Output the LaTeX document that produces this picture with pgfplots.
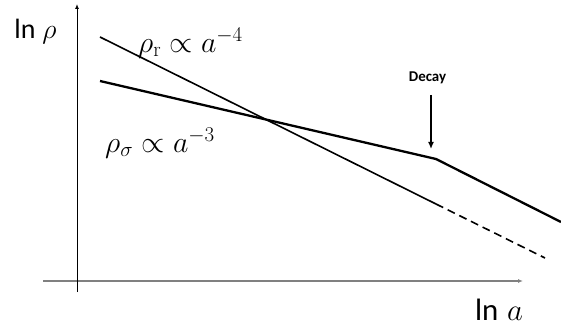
\RequirePackage{fix-cm}
\documentclass[border=0pt]{standalone}
\usepackage{pgfplots}
\pgfplotsset{compat=1.18}
\usepackage[no-math]{fontspec}
\setmainfont{Carlito}
\usetikzlibrary{arrows.meta}

\begin{document}
\begin{tikzpicture}
\begin{axis}[
  x=1bp, y=1bp,
  anchor=origin, at={(0,0)},
  xmin=-34, xmax=446,
  ymin=-11, ymax=277,
  axis lines=middle,
  xtick=\empty, ytick=\empty,
  clip=false,
  x axis line style={draw=gray, line width=1.5bp, -{Latex[length=5bp,width=4bp]}},
  y axis line style={draw=black, line width=0.9bp, -{Latex[length=5bp,width=4bp]}},
  xlabel={\fontsize{31}{34}\selectfont ln\hspace{0.28em}$a$},
  ylabel={\fontsize{28}{32}\selectfont ln\hspace{0.25em}$\rho$},
  xlabel style={at={(axis cs:422,-39)}, anchor=base, inner sep=0pt},
  ylabel style={at={(axis cs:-41.5,243)}, anchor=base, rotate=0, inner sep=0pt},
]
% radiation: rho_r ~ a^-4
\addplot[black, line width=1.6bp] coordinates {(23,244) (359,77)};
\addplot[black, line width=1.6bp, dash pattern=on 8bp off 5bp] coordinates {(359,77) (468,23)};
% sigma component: rho_sigma ~ a^-3, then decays
\addplot[black, line width=2.3bp, line join=round] coordinates {(23,200) (359,122) (484,59)};
% decay marker
\addplot[black, line width=1.8bp, -{Latex[length=7bp,width=6bp]}] coordinates {(354,186) (354,132)};
\node[anchor=base] at (axis cs:350.5,200) {\fontsize{15}{18}\selectfont\bfseries Decay};
\node[anchor=base west, inner sep=0pt] at (axis cs:61,229)
  {\fontsize{30}{34}\selectfont $\rho_{\mathrm{r}} \propto a^{-4}$};
\node[anchor=base west, inner sep=0pt] at (axis cs:28,129)
  {\fontsize{30}{34}\selectfont $\rho_{\sigma} \propto a^{-3}$};
\end{axis}
\pgfresetboundingbox
\path[use as bounding box] (-77bp,-46bp) rectangle (484bp,281bp);
\end{tikzpicture}
\end{document}
